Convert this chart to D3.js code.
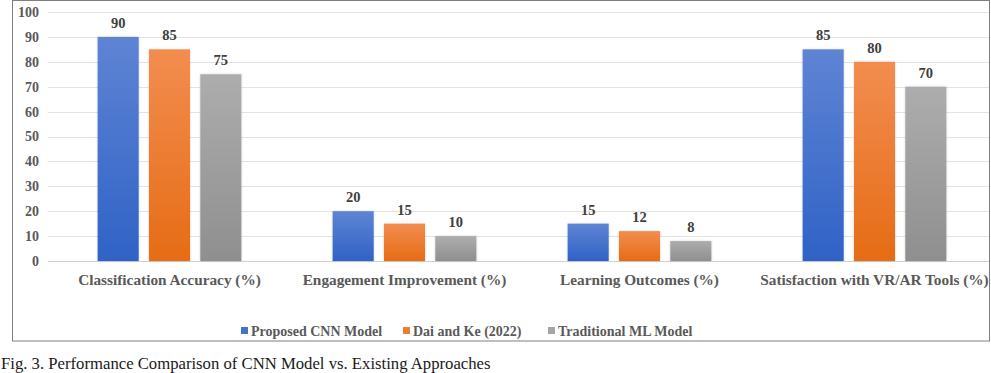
<!DOCTYPE html>
<html><head><meta charset="utf-8">
<script src="https://cdn.jsdelivr.net/npm/d3@7"></script>
<style>
html,body{margin:0;padding:0;background:#fff;}
svg{display:block;}
</style></head>
<body>
<svg id="c" width="991" height="373"></svg>
<script>
const categories = ["Classification Accuracy (%)", "Engagement Improvement (%)", "Learning Outcomes (%)", "Satisfaction with VR/AR Tools (%)"];
const seriesNames = ["Proposed CNN Model", "Dai and Ke (2022)", "Traditional ML Model"];
const proposedCNN = [90, 20, 15, 85];
const daiKe = [85, 15, 12, 80];
const traditionalML = [75, 10, 8, 70];
const yTicks = [0, 10, 20, 30, 40, 50, 60, 70, 80, 90, 100];
const caption = "Fig. 3. Performance Comparison of CNN Model vs. Existing Approaches";

const seriesValues = [proposedCNN, daiKe, traditionalML];
const colorsTop = ["#5f84d4", "#f28d50", "#adadad"];
const colorsBot = ["#2f62c6", "#e66c15", "#8f8f8f"];
const legendColors = ["#4472c4", "#ed7d31", "#a5a5a5"];

const svg = d3.select("#c");
const font = "'Liberation Serif','Times New Roman',serif";

const defs = svg.append("defs");
seriesNames.forEach((s, i) => {
  const g = defs.append("linearGradient").attr("id", "g" + i)
    .attr("x1", 0).attr("y1", 0).attr("x2", 0).attr("y2", 1);
  g.append("stop").attr("offset", "0%").attr("stop-color", colorsTop[i]);
  g.append("stop").attr("offset", "100%").attr("stop-color", colorsBot[i]);
});
const f = defs.append("filter").attr("id", "sh").attr("x", "-20%").attr("y", "-20%").attr("width", "140%").attr("height", "140%");
f.append("feGaussianBlur").attr("in", "SourceAlpha").attr("stdDeviation", 1.2).attr("result", "b");
f.append("feFlood").attr("flood-color", "#000").attr("flood-opacity", 0.18);
f.append("feComposite").attr("in2", "b").attr("operator", "in").attr("result", "s");
const m = f.append("feMerge");
m.append("feMergeNode").attr("in", "s");
m.append("feMergeNode").attr("in", "SourceGraphic");

// outer frame
svg.append("rect").attr("x", 12.5).attr("y", 0.5).attr("width", 977).attr("height", 340.5)
  .attr("fill", "none").attr("stroke", "#7f7f7f").attr("stroke-width", 1);

const y = d3.scaleLinear().domain([0, 100]).range([261, 12]);
const x0 = d3.scaleBand().domain(categories).range([52, 992]).paddingInner(0).paddingOuter(0);
const x1 = d3.scaleBand().domain(seriesNames).range([-77, 77]).paddingInner(0.2).paddingOuter(0.1);

// gridlines
svg.append("g").selectAll("line").data(yTicks).join("line")
  .attr("x1", 48).attr("x2", 989)
  .attr("y1", d => Math.round(y(d)) + 0.5).attr("y2", d => Math.round(y(d)) + 0.5)
  .attr("stroke", d => d === 0 ? "#d0d0d0" : "#e3e3e3").attr("stroke-width", 1);

// y axis labels
const yAxis = d3.axisLeft(y).tickValues(yTicks).tickSize(0).tickPadding(0);
const ya = svg.append("g").attr("transform", "translate(39,0)").call(yAxis);
ya.select(".domain").remove();
ya.selectAll("text").attr("font-family", font).attr("font-weight", "bold")
  .attr("font-size", 14).attr("fill", "#595959");

// bars
const groups = svg.append("g").selectAll("g").data(categories).join("g")
  .attr("transform", d => `translate(${x0(d) + x0.bandwidth() / 2},0)`);
groups.selectAll("rect").data((d, ci) => seriesNames.map((s, si) => ({s, si, v: seriesValues[si][ci]})))
  .join("rect")
  .attr("x", d => x1(d.s)).attr("width", x1.bandwidth())
  .attr("y", d => y(d.v)).attr("height", d => y(0) - y(d.v))
  .attr("fill", d => `url(#g${d.si})`).attr("filter", "url(#sh)");
groups.selectAll("text.v").data((d, ci) => seriesNames.map((s, si) => ({s, si, v: seriesValues[si][ci]})))
  .join("text").attr("class", "v")
  .attr("x", d => x1(d.s) + x1.bandwidth() / 2).attr("y", d => y(d.v) - 9)
  .attr("text-anchor", "middle").attr("font-family", font).attr("font-weight", "bold")
  .attr("font-size", 14.5).attr("fill", "#404040").text(d => d.v);

// category axis
const xAxis = d3.axisBottom(x0).tickSize(0).tickPadding(0);
const xa = svg.append("g").attr("transform", "translate(0,274)").call(xAxis);
xa.select(".domain").remove();
xa.selectAll("text").attr("font-family", font).attr("font-weight", "bold")
  .attr("font-size", 15.3).attr("fill", "#595959").attr("dy", "0.71em");

// legend
const legX = [241, 403, 548];
const lg = svg.append("g").selectAll("g").data(seriesNames).join("g")
  .attr("transform", (d, i) => `translate(${legX[i]},331)`);
lg.append("rect").attr("x", 0).attr("y", -4).attr("width", 7).attr("height", 7)
  .attr("fill", (d, i) => legendColors[i]);
lg.append("text").attr("x", 10).attr("y", 0).attr("dy", "0.35em")
  .attr("font-family", font).attr("font-weight", "bold").attr("font-size", 14)
  .attr("fill", "#595959").text(d => d);

// caption
svg.append("text").attr("x", 1).attr("y", 369).attr("font-family", font)
  .attr("font-size", 16.7).attr("fill", "#1a1a1a").text(caption);
</script>
</body></html>
